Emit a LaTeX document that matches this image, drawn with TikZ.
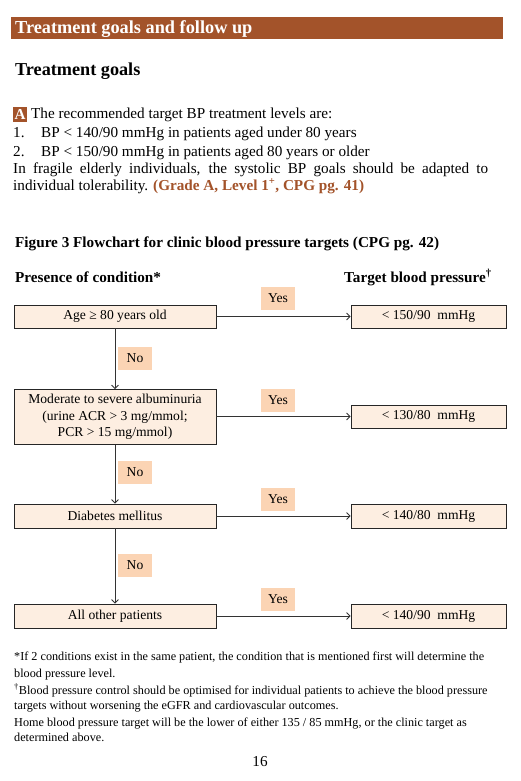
\documentclass[tikz,border=0pt]{standalone}
\usepackage{fontspec}
\setmainfont{Liberation Serif}
\usetikzlibrary{arrows.meta}
\definecolor{sienna}{HTML}{A3532A}
\definecolor{boxfill}{HTML}{FDEEE1}
\definecolor{labfill}{HTML}{FBD4B4}
\tikzset{
  condbox/.style={draw=black!85,fill=boxfill,line width=0.8pt,inner sep=0pt,font=\fontsize{13.6}{16.5}\selectfont,align=center},
  lab/.style={fill=labfill,inner sep=0pt,minimum width=34pt,minimum height=23pt,font=\fontsize{13.6}{16}\selectfont},
  conn/.style={draw=black!80,line width=0.8pt,-{Straight Barb[length=3.5pt,width=7pt]}},
  txt/.style={inner sep=0pt,anchor=base west},
  body/.style={txt,font=\fontsize{15.2}{18}\selectfont},
  foot/.style={txt,font=\fontsize{12.2}{16}\selectfont},
}
\begin{document}
\begin{tikzpicture}[x=1pt,y=-1pt]
\useasboundingbox[fill=white] (0,0) rectangle (521,781);
% header
\fill[sienna] (11,17) rectangle (503,39);
\node[txt,text=white,font=\fontsize{18.3}{20}\selectfont\bfseries] (hdr) at (15,34) {Treatment goals and follow up};
\node[txt,font=\fontsize{18.2}{20}\selectfont\bfseries] (tg) at (15,76) {Treatment goals};
% paragraph
\node[fill=sienna,text=white,inner sep=0pt,minimum width=14pt,minimum height=15pt,font=\fontsize{15.2}{18}\selectfont\bfseries] (A) at (20,114.5) {A};
\node[body] (l1) at (31,118) {The recommended target BP treatment levels are:};
\node[body] (l2n) at (13,137) {1.};
\node[body] (l2) at (41,137) {BP < 140/90 mmHg in patients aged under 80 years};
\node[body] (l3n) at (13,156) {2.};
\node[body] (l3) at (41,156) {BP < 150/90 mmHg in patients aged 80 years or older};
\node[body] (l4) at (13,173) {\makebox[475pt][s]{In fragile elderly individuals, the systolic BP goals should be adapted to}};
\node[body] (l5) at (13,190) {individual tolerability. \textcolor{sienna}{\bfseries (Grade A, Level 1\textsuperscript{+}, CPG pg. 41)}};
% figure title
\node[txt,font=\fontsize{15.2}{18}\selectfont\bfseries] (ft) at (15,247) {Figure 3 Flowchart for clinic blood pressure targets (CPG pg. 42)};
\node[txt,font=\fontsize{15.2}{18}\selectfont\bfseries] (pc) at (15,282) {Presence of condition*};
\node[txt,font=\fontsize{15.2}{18}\selectfont\bfseries] (tb) at (344,282) {Target blood pressure\textsuperscript{\dag}};
% left boxes
\node[condbox,minimum width=202pt,minimum height=23pt] (c1) at (115,316.5) {Age ≥ 80 years old};
\node[condbox,minimum width=202pt,minimum height=55pt] (c2) at (115,417) {Moderate to severe albuminuria\\(urine ACR > 3 mg/mmol;\\PCR > 15 mg/mmol)};
\node[condbox,minimum width=202pt,minimum height=24pt] (c3) at (115,516) {Diabetes mellitus};
\node[condbox,minimum width=202pt,minimum height=24pt] (c4) at (115,616) {All other patients};
% right boxes
\node[condbox,minimum width=155pt,minimum height=23pt] (t1) at (428.5,316.5) {< 150/90\ \ mmHg};
\node[condbox,minimum width=155pt,minimum height=23pt] (t2) at (428.5,416.5) {< 130/80\ \ mmHg};
\node[condbox,minimum width=155pt,minimum height=24pt] (t3) at (428.5,516) {< 140/80\ \ mmHg};
\node[condbox,minimum width=155pt,minimum height=24pt] (t4) at (428.5,616) {< 140/90\ \ mmHg};
% connectors
\draw[conn] (c1.east) -- (t1.west);
\draw[conn] (c2.east |- t2.west) -- (t2.west);
\draw[conn] (c3.east) -- (t3.west);
\draw[conn] (c4.east) -- (t4.west);
\draw[conn] (c1.south) -- (c2.north);
\draw[conn] (c2.south) -- (c3.north);
\draw[conn] (c3.south) -- (c4.north);
% labels
\node[lab] (y1) at (278,298) {Yes};
\node[lab] (y2) at (278,400) {Yes};
\node[lab] (y3) at (278,499.5) {Yes};
\node[lab] (y4) at (278,599.5) {Yes};
\node[lab] (n1) at (135,358.5) {No};
\node[lab] (n2) at (135,472) {No};
\node[lab] (n3) at (135,565.5) {No};
% footnotes
\node[foot] (f1) at (14,660) {*If 2 conditions exist in the same patient, the condition that is mentioned first will determine the};
\node[foot] (f2) at (14,677) {blood pressure level.};
\node[foot] (f3) at (14,694) {\textsuperscript{\dag}Blood pressure control should be optimised for individual patients to achieve the blood pressure};
\node[foot] (f4) at (14,709) {targets without worsening the eGFR and cardiovascular outcomes.};
\node[foot] (f5) at (14,726) {Home blood pressure target will be the lower of either 135 / 85 mmHg, or the clinic target as};
\node[foot] (f6) at (14,741) {determined above.};
\node[inner sep=0pt,anchor=base,font=\fontsize{15.2}{18}\selectfont] (pg) at (260,766) {16};
\end{tikzpicture}
\end{document}
